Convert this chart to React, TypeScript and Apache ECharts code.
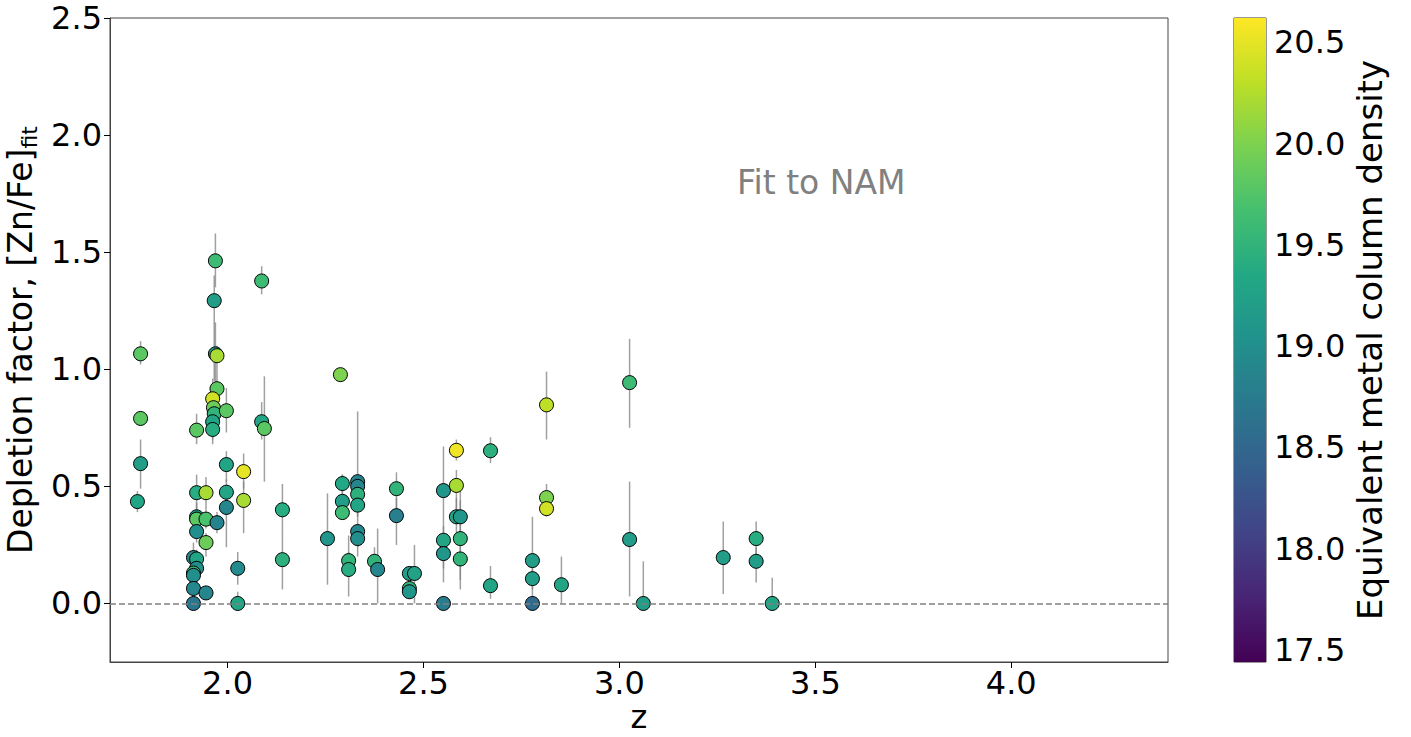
import React, { useEffect, useRef } from "react";
import * as echarts from "echarts";

const FONT = "DejaVu Sans";

// Redshift z
const Z = [
  1.778, 1.778, 1.778, 1.770,
  1.921, 1.921, 1.945, 1.921, 1.921, 1.945, 1.973, 1.921, 1.945, 1.913, 1.921, 1.921, 1.913, 1.913, 1.913, 1.945, 1.913,
  1.969, 1.966, 1.969, 1.973, 1.973, 1.962, 1.964, 1.966, 1.962, 1.962, 1.997, 1.997, 1.997, 1.997,
  2.026, 2.026, 2.041, 2.041,
  2.087, 2.087, 2.094, 2.140, 2.140,
  2.255, 2.288, 2.293, 2.293, 2.293, 2.332, 2.332, 2.332, 2.332, 2.332, 2.332, 2.309, 2.309, 2.375, 2.383,
  2.431, 2.431, 2.464, 2.477, 2.464, 2.464,
  2.551, 2.551, 2.551, 2.551, 2.584, 2.584, 2.584, 2.594, 2.594, 2.594,
  2.671, 2.671,
  2.778, 2.778, 2.778, 2.814, 2.814, 2.814, 2.852,
  3.026, 3.026, 3.061,
  3.265, 3.349, 3.349, 3.390,
];

// Depletion factor [Zn/Fe]_fit
const DEP = [
  1.066, 0.79, 0.597, 0.435,
  0.74, 0.473, 0.473, 0.37, 0.36, 0.36, 0.345, 0.307, 0.26, 0.196, 0.19, 0.15, 0.13, 0.12, 0.064, 0.045, 0.0,
  1.463, 1.293, 1.066, 1.058, 0.917, 0.874, 0.836, 0.81, 0.776, 0.743, 0.823, 0.593, 0.475, 0.41,
  0.15, 0.0, 0.563, 0.44,
  1.377, 0.776, 0.747, 0.40, 0.187,
  0.277, 0.977, 0.512, 0.436, 0.388, 0.52, 0.50, 0.466, 0.42, 0.307, 0.277, 0.183, 0.145, 0.18, 0.145,
  0.49, 0.375, 0.128, 0.128, 0.064, 0.05,
  0.482, 0.27, 0.213, 0.0, 0.654, 0.504, 0.37, 0.37, 0.277, 0.19,
  0.652, 0.076,
  0.183, 0.106, 0.0, 0.848, 0.452, 0.405, 0.08,
  0.943, 0.273, 0.0,
  0.196, 0.277, 0.18, 0.0,
];

// Lower end of error bar
const LO = [
  1.02, 0.76, 0.49, 0.39,
  0.68, 0.40, 0.40, 0.32, 0.33, 0.32, 0.30, 0.26, 0.20, 0.14, 0.15, 0.11, 0.10, 0.09, 0.03, 0.02, 0.0,
  1.35, 0.95, 0.90, 1.00, 0.80, 0.76, 0.74, 0.72, 0.70, 0.68, 0.73, 0.52, 0.38, 0.24,
  0.08, 0.0, 0.49, 0.30,
  1.32, 0.70, 0.52, 0.30, 0.06,
  0.08, 0.95, 0.47, 0.40, 0.36, 0.20, 0.45, 0.42, 0.37, 0.27, 0.24, 0.15, 0.03, 0.12, 0.0,
  0.40, 0.25, 0.10, 0.0, 0.03, 0.02,
  0.09, 0.20, 0.15, 0.0, 0.61, 0.40, 0.25, 0.30, 0.06, 0.10,
  0.60, 0.02,
  0.0, 0.06, 0.0, 0.70, 0.40, 0.37, 0.0,
  0.75, 0.03, 0.0,
  0.04, 0.21, 0.09, 0.0,
];

// Upper end of error bar
const HI = [
  1.12, 0.82, 0.70, 0.48,
  0.81, 0.55, 0.54, 0.43, 0.40, 0.40, 0.39, 0.35, 0.30, 0.26, 0.23, 0.19, 0.16, 0.15, 0.10, 0.07, 0.03,
  1.58, 1.40, 1.20, 1.10, 1.00, 0.96, 0.92, 0.88, 0.86, 0.80, 0.92, 0.65, 0.53, 0.46,
  0.22, 0.05, 0.64, 0.52,
  1.44, 0.86, 0.97, 0.51, 0.30,
  0.47, 1.00, 0.55, 0.47, 0.55, 0.82, 0.55, 0.51, 0.47, 0.34, 0.31, 0.22, 0.29, 0.24, 0.32,
  0.56, 0.45, 0.16, 0.25, 0.09, 0.08,
  0.67, 0.33, 0.28, 0.03, 0.70, 0.57, 0.45, 0.44, 0.52, 0.25,
  0.71, 0.16,
  0.37, 0.15, 0.03, 0.99, 0.51, 0.44, 0.20,
  1.13, 0.52, 0.18,
  0.35, 0.35, 0.24, 0.11,
];

// Equivalent metal column density (colour)
const NM = [
  19.8, 19.8, 19.2, 19.3,
  19.8, 19.4, 20.2, 19.1, 19.8, 19.7, 18.85, 19.0, 19.9, 18.9, 19.3, 19.0, 19.6, 19.0, 18.9, 18.9, 18.7,
  19.6, 19.2, 19.2, 20.2, 19.8, 20.4, 19.9, 19.5, 19.3, 19.4, 19.8, 19.3, 19.3, 18.9,
  18.95, 19.3, 20.5, 20.2,
  19.6, 19.3, 19.8, 19.4, 19.45,
  19.1, 20.0, 19.35, 19.2, 19.6, 18.85, 18.9, 19.45, 19.3, 18.9, 19.0, 19.5, 19.4, 19.5, 18.9,
  19.5, 18.8, 19.2, 19.25, 19.5, 19.1,
  19.1, 19.3, 19.1, 18.75, 20.55, 20.2, 19.3, 19.1, 19.5, 19.5,
  19.45, 19.3,
  19.2, 19.2, 18.55, 20.3, 20.0, 20.4, 19.3,
  19.6, 19.2, 19.2,
  19.2, 19.4, 19.2, 19.3,
];

const X_TICKS = [2.0, 2.5, 3.0, 3.5, 4.0];
const Y_TICKS = [0.0, 0.5, 1.0, 1.5, 2.0, 2.5];
const CB_TICKS = [17.5, 18.0, 18.5, 19.0, 19.5, 20.0, 20.5];
const CB_MIN = 17.44;
const CB_MAX = 20.62;

const VIRIDIS = [
  "#440154", "#482475", "#414487", "#355f8d", "#2a788e", "#21918c",
  "#22a884", "#44bf70", "#7ad151", "#bddf26", "#fde725",
];

export default function App() {
  const ref = useRef<HTMLDivElement>(null);

  useEffect(() => {
    if (!ref.current) return;
    const chart = echarts.init(ref.current, null, { renderer: "svg" });

    const scatterData = Z.map((z, i) => [z, DEP[i], NM[i]]);
    const errData = Z.map((z, i) => [z, LO[i], HI[i]]);

    const tickLabel = { fontSize: 32, color: "#000", fontFamily: FONT, lineHeight: 30 };

    const option: any = {
      animation: false,
      backgroundColor: "#fff",
      grid: [
        { left: 110, top: 18, width: 1058, height: 644, show: true, borderColor: "#444", borderWidth: 1, backgroundColor: "transparent", outerBoundsMode: "none", containLabel: false },
        { left: 1234, top: 18, width: 32, height: 644, show: true, borderColor: "#333", borderWidth: 1, backgroundColor: "transparent", outerBoundsMode: "none", containLabel: false },
      ],
      xAxis: [
        {
          type: "value",
          gridIndex: 0,
          min: 1.7,
          max: 4.4,
          axisLine: { show: true, onZero: false, lineStyle: { color: "#444" } },
          axisTick: { show: true, customValues: X_TICKS, length: 6, lineStyle: { color: "#000" } },
          axisLabel: { ...tickLabel, customValues: X_TICKS, formatter: (v: number) => v.toFixed(1), margin: 6 },
          splitLine: { show: false },
          name: "z",
          nameLocation: "middle",
          nameGap: 41,
          nameMoveOverlap: false,
          nameTextStyle: { fontSize: 32, color: "#000", fontFamily: FONT, lineHeight: 28 },
        },
        { type: "value", gridIndex: 1, min: 0, max: 1, show: false },
      ],
      yAxis: [
        {
          type: "value",
          gridIndex: 0,
          min: -0.25,
          max: 2.5,
          axisLine: { show: true, onZero: false, lineStyle: { color: "#444" } },
          axisTick: { show: true, customValues: Y_TICKS, length: 6, lineStyle: { color: "#000" } },
          axisLabel: { ...tickLabel, customValues: Y_TICKS, formatter: (v: number) => v.toFixed(1), margin: 8 },
          splitLine: { show: false },
          name: "{a|Depletion factor, [Zn/Fe]}{b|fit}",
          nameLocation: "middle",
          nameRotate: 90,
          nameGap: 70,
          nameMoveOverlap: false,
          nameTextStyle: {
            rich: {
              a: { fontSize: 33, fontFamily: FONT, color: "#000", lineHeight: 40 },
              b: { fontSize: 22, fontFamily: FONT, color: "#000", lineHeight: 40, verticalAlign: "bottom", padding: [12, 0, 0, 0] },
            },
          },
        },
        {
          type: "value",
          gridIndex: 1,
          position: "right",
          min: CB_MIN,
          max: CB_MAX,
          axisLine: { show: false },
          axisTick: { show: true, customValues: CB_TICKS, length: 6, lineStyle: { color: "#000" } },
          axisLabel: { ...tickLabel, customValues: CB_TICKS, formatter: (v: number) => v.toFixed(1), margin: 8 },
          splitLine: { show: false },
          name: "Equivalent metal column density",
          nameLocation: "middle",
          nameRotate: 90,
          nameGap: 87,
          nameMoveOverlap: false,
          nameTextStyle: { fontSize: 34, color: "#000", fontFamily: FONT },
        },
      ],
      visualMap: {
        type: "continuous",
        show: false,
        seriesIndex: 1,
        dimension: 2,
        min: CB_MIN,
        max: CB_MAX,
        inRange: { color: VIRIDIS },
      },
      graphic: [
        {
          type: "text",
          left: 737,
          top: 166,
          style: { text: "Fit to NAM", fontSize: 33, fill: "#808080", fontFamily: FONT },
        },
      ],
      series: [
        {
          type: "custom",
          xAxisIndex: 0,
          yAxisIndex: 0,
          data: errData,
          silent: true,
          z: 1,
          encode: { x: 0, y: [1, 2] },
          renderItem: (params: any, api: any) => {
            const x = api.value(0);
            const p1 = api.coord([x, api.value(1)]);
            const p2 = api.coord([x, api.value(2)]);
            return {
              type: "line",
              shape: { x1: p1[0], y1: p1[1], x2: p2[0], y2: p2[1] },
              style: { stroke: "rgba(128,128,128,0.75)", lineWidth: 1.5 },
            };
          },
        },
        {
          type: "scatter",
          xAxisIndex: 0,
          yAxisIndex: 0,
          data: scatterData,
          symbolSize: 14,
          z: 3,
          itemStyle: { borderColor: "#000", borderWidth: 1, opacity: 1 },
          markLine: {
            silent: true,
            symbol: "none",
            label: { show: false },
            lineStyle: { color: "#808080", type: [6, 3], width: 1.5 },
            data: [{ yAxis: 0 }],
          },
        },
        {
          type: "custom",
          xAxisIndex: 1,
          yAxisIndex: 1,
          data: [[0, CB_MIN, CB_MAX]],
          silent: true,
          renderItem: (params: any, api: any) => {
            const a = api.coord([0, api.value(2)]);
            const b = api.coord([1, api.value(1)]);
            const stops = VIRIDIS.slice().reverse().map((c, i) => ({ offset: i / (VIRIDIS.length - 1), color: c }));
            return {
              type: "rect",
              shape: { x: a[0], y: a[1], width: b[0] - a[0], height: b[1] - a[1] },
              style: { fill: new echarts.graphic.LinearGradient(0, 0, 0, 1, stops) },
            };
          },
        },
      ],
    };

    chart.setOption(option);
    return () => chart.dispose();
  }, []);

  return (
    <div
      ref={ref}
      style={{ position: "fixed", left: 0, top: 0, width: 1411, height: 737, background: "#fff" }}
    />
  );
}
